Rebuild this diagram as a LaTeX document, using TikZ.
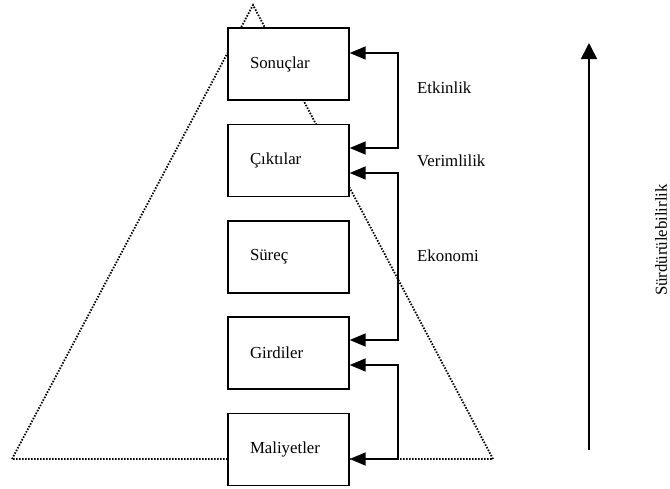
\documentclass[tikz,border=0pt]{standalone}
\usepackage{fontspec}
\setmainfont{Liberation Serif}
\usetikzlibrary{arrows.meta,calc}
\begin{document}
\begin{tikzpicture}[x=1pt,y=-1pt,
  stage/.style={draw,fill=white,line width=1.4pt,minimum height=72pt,
    text width=77pt,align=left,inner xsep=22pt,inner ysep=0pt,
    font=\fontsize{16.8}{19}\selectfont},
  link/.style={line width=1.6pt,{Triangle[length=16pt,width=13pt]}-{Triangle[length=16pt,width=13pt]}},
  tag/.style={anchor=west,inner sep=0pt,font=\fontsize{16.8}{19}\selectfont},
  pyr/.style={line width=1.8pt,dash pattern=on 1.5pt off 1.5pt}]
\useasboundingbox (0,0) rectangle (670,488);

% pyramid outline behind the stages
\coordinate (apex) at (253,5);
\coordinate (bl) at (12,459);
\coordinate (br) at (493,459);
\draw[pyr] (bl) -- (apex) -- (br) -- cycle;

% stages
\node[stage] (son) at (288.5,64) {Sonuçlar};
\node[stage] (cik) at (288.5,160.5) {Çıktılar};
\node[stage] (sur) at (288.5,257) {Süreç};
\node[stage] (gir) at (288.5,353) {Girdiler};
\node[stage] (mal) at (288.5,449.5) {Maliyetler};

% links between stages
\draw[link] ($(cik.east)+(0,-12.5)$) -- ++(48,0) |- ($(son.east)+(0,-11)$);
\draw[link] ($(gir.east)+(0,-13)$) -- ++(48,0) |- ($(cik.east)+(0,12.5)$);
\draw[link] ($(mal.east)+(0,9.5)$) -- ++(48,0) |- ($(gir.east)+(0,12)$);

\node[tag] (etk) at (417,88) {Etkinlik};
\node[tag] (ver) at (417,161) {Verimlilik};
\node[tag] (eko) at (417,256) {Ekonomi};

% sustainability axis
\coordinate (sb) at (589,450);
\coordinate (st) at (589,43);
\draw[line width=1.6pt,-{Triangle[length=16pt,width=16pt]}] (sb) -- (st);
\node[rotate=90,inner sep=0pt,font=\fontsize{16.8}{19}\selectfont] (srd) at (661,240) {Sürdürülebilirlik};
\end{tikzpicture}
\end{document}
